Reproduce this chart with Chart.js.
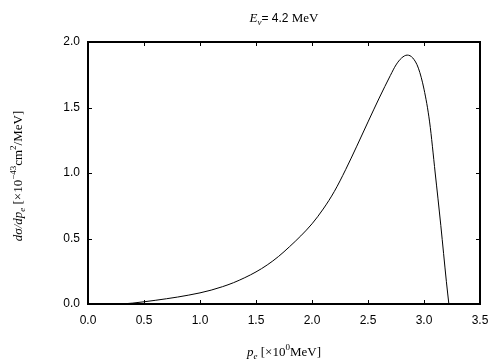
<!DOCTYPE html>
<html>
<head>
<meta charset="utf-8">
<script src="https://cdn.jsdelivr.net/npm/chart.js@4"></script>
<style>
  html, body { margin: 0; padding: 0; background: #fff; }
  #wrap { width: 504px; height: 360px; }
</style>
</head>
<body>
<div id="wrap"><canvas id="sigmaChart" width="504" height="360"></canvas></div>
<script>
// momentum of the electron (MeV) and cross section (1e-43 cm^2/MeV)
const pe = [0.30, 0.40, 0.50, 0.60, 0.70, 0.80, 0.90, 1.00, 1.10, 1.20, 1.30, 1.40, 1.50,
            1.60, 1.70, 1.80, 1.90, 2.00, 2.10, 2.20, 2.30, 2.40, 2.50, 2.60, 2.70,
            2.75, 2.80, 2.85, 2.90, 2.95, 3.00, 3.05, 3.10, 3.15, 3.20, 3.222]
const dsigma = [0.000, 0.007, 0.017, 0.028, 0.040, 0.053, 0.068, 0.085, 0.106, 0.132, 0.163, 0.201, 0.245,
                0.298, 0.362, 0.438, 0.520, 0.612, 0.725, 0.860, 1.025, 1.205, 1.390, 1.572, 1.745,
                1.825, 1.878, 1.900, 1.878, 1.800, 1.640, 1.390, 1.000, 0.600, 0.170, 0.000]
const xTicks = [0, 0.5, 1, 1.5, 2, 2.5, 3, 3.5]
const yTicks = [0, 0.5, 1, 1.5, 2]

const serif = '"Liberation Serif", "DejaVu Serif", serif'
const sans = '"Liberation Sans", Arial, sans-serif'

// draws a row of text pieces: [text, font, dy]
const drawPieces = (ctx, pieces, cx, baseline) => {
    let total = 0
    pieces.forEach(([t, f]) => { ctx.font = f; total += ctx.measureText(t).width })
    let x = cx - total / 2
    pieces.forEach(([t, f, dy]) => {
        ctx.font = f
        ctx.fillText(t, x, baseline + (dy || 0))
        x += ctx.measureText(t).width
    })
}

const framePlugin = {
    id: 'frame',
    afterDatasetsDraw(chart) {
        const { ctx, chartArea: a, scales: { x, y } } = chart
        ctx.save()
        ctx.strokeStyle = '#000'
        ctx.lineWidth = 1
        ctx.beginPath()
        const len = 4
        xTicks.forEach(v => {
            const px = Math.round(x.getPixelForValue(v)) + 0.5
            ctx.moveTo(px, a.bottom); ctx.lineTo(px, a.bottom - len)
            ctx.moveTo(px, a.top); ctx.lineTo(px, a.top + len)
        })
        yTicks.forEach(v => {
            const py = Math.round(y.getPixelForValue(v)) + 0.5
            ctx.moveTo(a.left, py); ctx.lineTo(a.left + len, py)
            ctx.moveTo(a.right, py); ctx.lineTo(a.right - len, py)
        })
        ctx.stroke()
        ctx.lineWidth = 2
        ctx.strokeRect(a.left, a.top, a.right - a.left, a.bottom - a.top)

        ctx.fillStyle = '#000'
        ctx.textBaseline = 'alphabetic'
        ctx.textAlign = 'left'
        const cx = (a.left + a.right) / 2
        // title
        drawPieces(ctx, [
            ['E', 'italic 13px ' + serif],
            ['ν', 'italic 9px ' + serif, 3],
            ['= 4.2 ', '12px ' + sans],
            ['MeV', '13px ' + serif]
        ], cx, 22)
        // x label
        drawPieces(ctx, [
            ['p', 'italic 13px ' + serif],
            ['e', 'italic 9px ' + serif, 3],
            [' [×10', '13px ' + serif],
            ['0', '9px ' + serif, -6],
            ['MeV]', '13px ' + serif]
        ], cx, 356)
        // y label
        ctx.translate(22, (a.top + a.bottom) / 2 + 3)
        ctx.rotate(-Math.PI / 2)
        drawPieces(ctx, [
            ['dσ/dp', 'italic 13px ' + serif],
            ['e', 'italic 9px ' + serif, 3],
            [' [×10', '13px ' + serif],
            ['−43', '9px ' + serif, -6],
            ['cm', '13px ' + serif],
            ['2', '9px ' + serif, -6],
            ['/MeV]', '13px ' + serif]
        ], 0, 0)
        ctx.restore()
    }
}

const data = {
    datasets: [{
        data: pe.map((p, i) => ({ x: p, y: dsigma[i] })),
        borderColor: '#000',
        borderWidth: 1,
        pointRadius: 0,
        cubicInterpolationMode: 'monotone',
        fill: false
    }]
}

const options = {
    responsive: false,
    animation: false,
    layout: { padding: { left: 0, right: 24, top: 42, bottom: 0 } },
    plugins: {
        legend: { display: false },
        tooltip: { enabled: false }
    },
    scales: {
        x: {
            type: 'linear',
            min: 0,
            max: 3.5,
            afterFit: s => { s.height = 56 },
            afterBuildTicks: s => { s.ticks = xTicks.map(v => ({ value: v })) },
            grid: { display: false, drawTicks: false },
            border: { display: false },
            ticks: {
                padding: 9,
                color: '#000',
                font: { family: sans, size: 12 },
                callback: v => v.toFixed(1)
            }
        },
        y: {
            min: 0,
            max: 2,
            afterFit: s => { s.width = 88 },
            afterBuildTicks: s => { s.ticks = yTicks.map(v => ({ value: v })) },
            grid: { display: false, drawTicks: false },
            border: { display: false },
            ticks: {
                padding: 8,
                color: '#000',
                font: { family: sans, size: 12 },
                callback: v => v.toFixed(1)
            }
        }
    }
}

new Chart('sigmaChart', { type: 'line', data, options, plugins: [framePlugin] })
</script>
</body>
</html>
